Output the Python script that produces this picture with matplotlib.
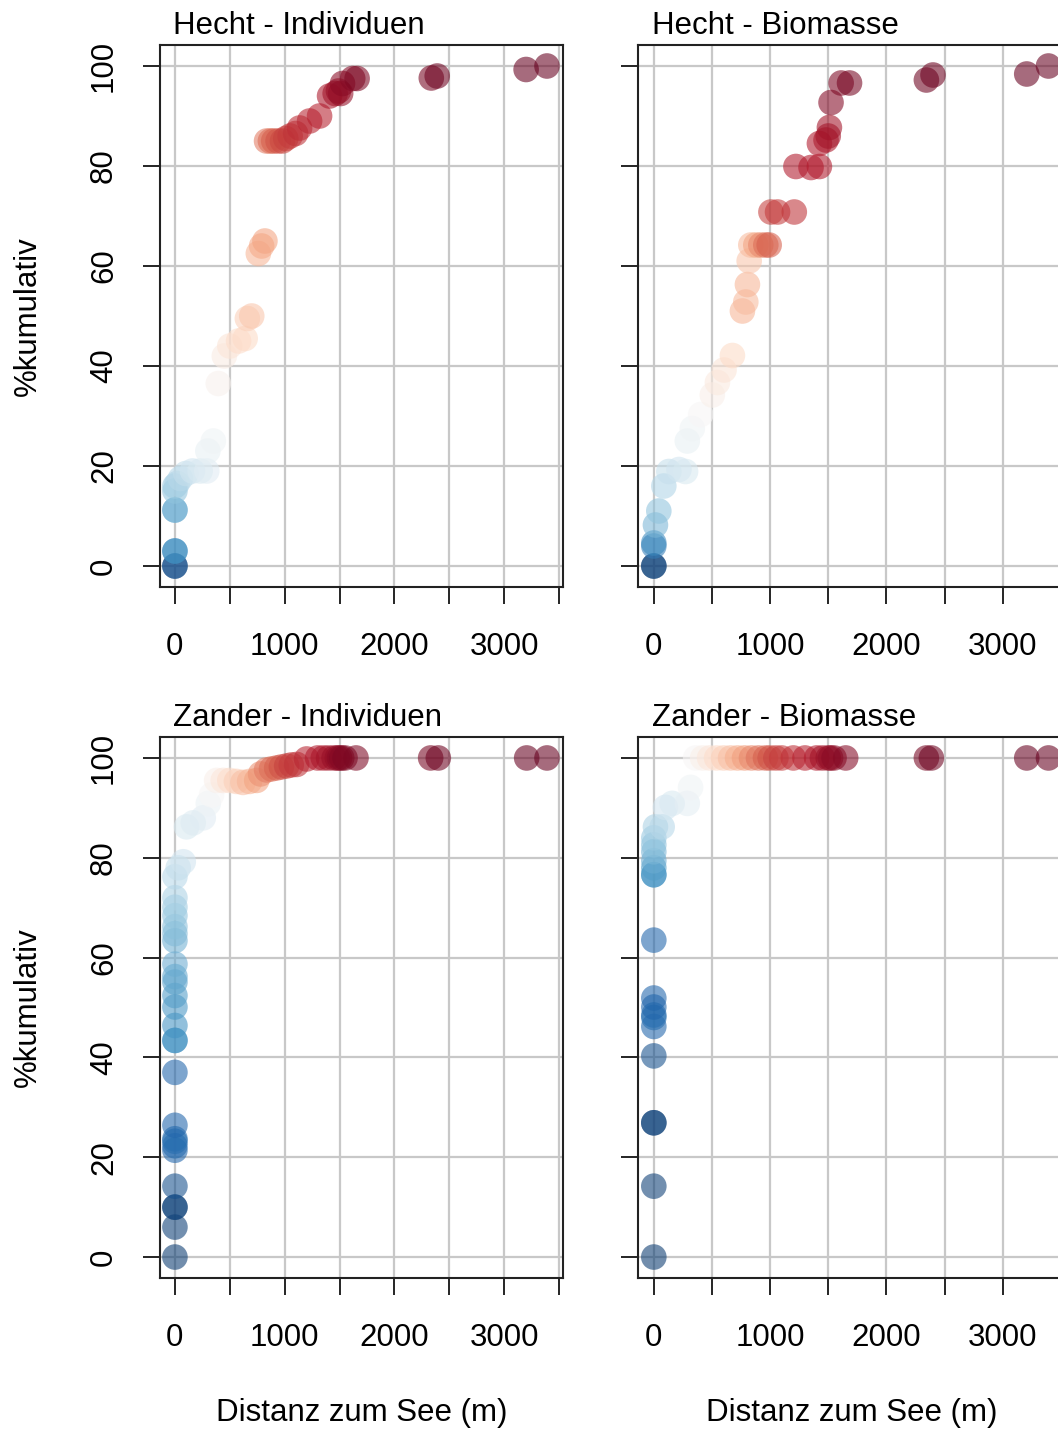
import numpy as np
import matplotlib.pyplot as plt
from matplotlib import cm

plt.rcParams['font.family'] = ['Liberation Sans', 'DejaVu Sans']

# Hecht - Individuen: Distanz (m), kumulativer Anteil (%), Farbwert (0 = blau, 1 = rot)
hecht_ind_x = [0, 0, 0, 0, 0, 0, 0, 0, 20, 50, 100, 160, 230, 290, 300, 350,
               395, 450, 500, 580, 640, 660, 700, 760, 790, 820,
               835, 870, 900, 940, 980, 1010, 1050, 1100, 1136, 1227, 1318,
               1409, 1460, 1490, 1510, 1527, 1620, 1660, 2336, 2390, 3200, 3390]
hecht_ind_y = [0, 0, 3, 3, 11.2, 11.2, 15, 16, 16.5, 17.5, 18.5, 19, 19, 19, 23, 25,
               36.5, 42, 44, 45, 45.5, 49.5, 50, 62.5, 64, 65,
               85, 85, 85, 85, 85, 85.5, 86, 86.5, 87.6, 89, 90,
               94, 94.5, 95, 94.5, 96.5, 97.5, 97.5, 97.6, 98, 99.3, 100]
hecht_ind_c = [0.0, 0.08, 0.17, 0.2, 0.24, 0.26, 0.3, 0.32, 0.34, 0.36, 0.38, 0.4, 0.42, 0.44, 0.46, 0.48,
               0.52, 0.54, 0.57, 0.59, 0.6, 0.62, 0.64, 0.67, 0.69, 0.7,
               0.76, 0.78, 0.8, 0.82, 0.83, 0.84, 0.85, 0.86, 0.87, 0.88, 0.89,
               0.91, 0.92, 0.93, 0.94, 0.95, 0.96, 0.97, 0.98, 0.99, 1.0, 1.0]

# Hecht - Biomasse
hecht_bio_x = [0, 0, 0, 0, 14, 43, 86, 129, 216, 273, 288, 331, 403, 503, 547, 604, 676,
               762, 791, 805, 820, 834, 877, 920, 963, 992, 1007, 1064, 1208,
               1222, 1352, 1424, 1424, 1481, 1500, 1510, 1524, 1611, 1683,
               2344, 2401, 3207, 3394]
hecht_bio_y = [0, 0, 4, 4.6, 8.2, 11, 16, 18.9, 19.3, 18.9, 25, 27.5, 30.3, 34.2, 36.7, 39.2, 42.1,
               51, 52.8, 56.3, 61, 64.2, 64.2, 64.2, 64.2, 64.2, 70.8, 70.8, 70.8,
               79.9, 79.7, 79.9, 84.5, 85.2, 86, 87.7, 92.7, 96.6, 96.6,
               97.2, 98.2, 98.4, 100]
hecht_bio_c = [0.0, 0.05, 0.15, 0.18, 0.27, 0.3, 0.35, 0.38, 0.4, 0.42, 0.46, 0.48, 0.5, 0.53, 0.55, 0.57, 0.6,
               0.67, 0.66, 0.67, 0.64, 0.66, 0.7, 0.74, 0.78, 0.8, 0.84, 0.85, 0.86,
               0.9, 0.9, 0.9, 0.9, 0.91, 0.92, 0.92, 0.96, 0.97, 0.98,
               0.99, 0.99, 1.0, 1.0]

# Zander - Individuen
zander_ind_x = [0, 0, 0, 0, 0, 0, 0, 0, 0, 0, 0, 0, 0, 0, 0, 0, 0, 0, 0, 0, 0, 0, 0, 0, 0, 0,
                30, 76, 106, 167, 258, 304, 334,
                380, 440, 500, 560, 620, 680, 745, 780, 835, 880, 927, 970, 1018, 1060, 1109,
                1200, 1300, 1352, 1400, 1450, 1480, 1500, 1520, 1550, 1650, 2330, 2400, 3205, 3390]
zander_ind_y = [0, 6, 10, 10, 14.2, 21.4, 22.3, 23.2, 23.7, 26.4, 37, 43.4, 43.4, 46.4, 50.1, 52.4,
                55.1, 56.2, 58.7, 63.4, 64.8, 66.2, 68.4, 70.1, 72, 76.2,
                78, 79.2, 86.2, 87, 88, 90.9, 92.6,
                95.5, 95.5, 95.5, 95.3, 95.1, 95.3, 95.5, 96.8, 97.6, 97.8, 98, 98.2, 98.4, 98.6, 98.7,
                99.8, 100, 100, 100, 100, 100, 100, 100, 100, 100, 100, 100, 100, 100]
zander_ind_c = [0.02, 0.03, 0.0, 0.05, 0.06, 0.1, 0.11, 0.12, 0.12, 0.1, 0.1, 0.19, 0.2, 0.2, 0.21, 0.22,
                0.23, 0.24, 0.25, 0.26, 0.28, 0.29, 0.3, 0.32, 0.34, 0.36,
                0.38, 0.4, 0.42, 0.43, 0.44, 0.47, 0.5,
                0.53, 0.56, 0.59, 0.62, 0.65, 0.67, 0.7, 0.73, 0.76, 0.78, 0.8, 0.82, 0.84, 0.85, 0.86,
                0.88, 0.9, 0.91, 0.92, 0.93, 0.94, 0.95, 0.96, 0.97, 0.97, 0.98, 0.99, 1.0, 1.0]

# Zander - Biomasse
zander_bio_x = [0, 0, 0, 0, 0, 0, 0, 0, 0, 0, 0, 0, 0, 0, 0, 0, 0, 0, 14, 72,
                100, 158, 288, 316,
                360, 420, 480, 540, 600, 660, 720, 780, 840, 900, 960, 1000, 1050, 1100,
                1200, 1300, 1400, 1450, 1500, 1520, 1550, 1650, 2344, 2387, 3207, 3394]
zander_bio_y = [0, 14.2, 26.9, 26.9, 40.3, 46.2, 48, 48.5, 50.1, 51.9, 63.5, 76.6, 76.6, 78, 79.4,
                81.2, 82.6, 84, 86.2, 86.2,
                90.1, 90.9, 90.9, 94.1,
                100, 100, 100, 100, 100, 100, 100, 100, 100, 100, 100, 100, 100, 100,
                100, 100, 100, 100, 100, 100, 100, 100, 100, 100, 100, 100]
zander_bio_c = [0.02, 0.03, 0.0, 0.05, 0.06, 0.1, 0.12, 0.12, 0.1, 0.1, 0.1, 0.2, 0.2, 0.22, 0.25,
                0.27, 0.29, 0.31, 0.34, 0.36,
                0.4, 0.42, 0.45, 0.48,
                0.5, 0.53, 0.56, 0.59, 0.62, 0.65, 0.68, 0.71, 0.74, 0.77, 0.8, 0.82, 0.84, 0.85,
                0.87, 0.89, 0.9, 0.92, 0.93, 0.94, 0.95, 0.96, 0.98, 0.99, 1.0, 1.0]

x_ticks = [0, 500, 1000, 1500, 2000, 2500, 3000, 3500]
x_ticklabels = ['0', '', '1000', '', '2000', '', '3000', '']
y_ticks = [0, 20, 40, 60, 80, 100]

W, H = 1058, 1430
fig = plt.figure(figsize=(W / 100, H / 100), dpi=100)


def box(left, right, top, bottom):
    return [left / W, 1 - bottom / H, (right - left) / W, (bottom - top) / H]


def panel(rect, xs, ys, cs, title, title_xy, left_col, bottom_row):
    ax = fig.add_axes(box(*rect))
    ax.set_axisbelow(True)
    ax.grid(True, color='#c8c8c8', lw=1.6)
    ax.scatter(xs, ys, c=cm.RdBu_r(np.asarray(cs)), s=340, alpha=0.58,
               linewidths=0, zorder=3)
    ax.set_xlim(-136, 3536)
    ax.set_ylim(-4.2, 104.2)
    ax.set_xticks(x_ticks)
    ax.set_xticklabels(x_ticklabels)
    ax.set_yticks(y_ticks)
    ax.tick_params(direction='out', length=12.5, width=1.2, labelsize=22.5,
                   pad=17, colors='black')
    ax.tick_params(axis='x', pad=20)
    ax.tick_params(axis='y', labelrotation=90, labelleft=left_col)
    for lbl in ax.get_yticklabels():
        lbl.set_va('center')
    for sp in ax.spines.values():
        sp.set_linewidth(1.5)
        sp.set_color('#222222')
    fig.text(title_xy[0] / W, 1 - title_xy[1] / H, title, ha='left', va='center',
             fontsize=22.5)
    if bottom_row:
        fig.text((rect[0] + rect[1]) / 2 / W, 1 - 1413 / H, 'Distanz zum See (m)',
                 ha='center', va='center', fontsize=22.5)
    return ax


panel((160, 563, 45, 587), hecht_ind_x, hecht_ind_y, hecht_ind_c,
      'Hecht - Individuen', (173, 26), True, False)
panel((638, 1065, 45, 587), hecht_bio_x, hecht_bio_y, hecht_bio_c,
      'Hecht - Biomasse', (652, 26), False, False)
panel((160, 563, 737, 1278), zander_ind_x, zander_ind_y, zander_ind_c,
      'Zander - Individuen', (173, 718), True, True)
panel((638, 1065, 737, 1278), zander_bio_x, zander_bio_y, zander_bio_c,
      'Zander - Biomasse', (652, 718), False, True)

for yc in (316, 1007):
    fig.text(28 / W, 1 - yc / H, '%kumulativ', rotation=90, ha='center',
             va='center', fontsize=22.5)

fig.savefig('out.png', dpi=100)
